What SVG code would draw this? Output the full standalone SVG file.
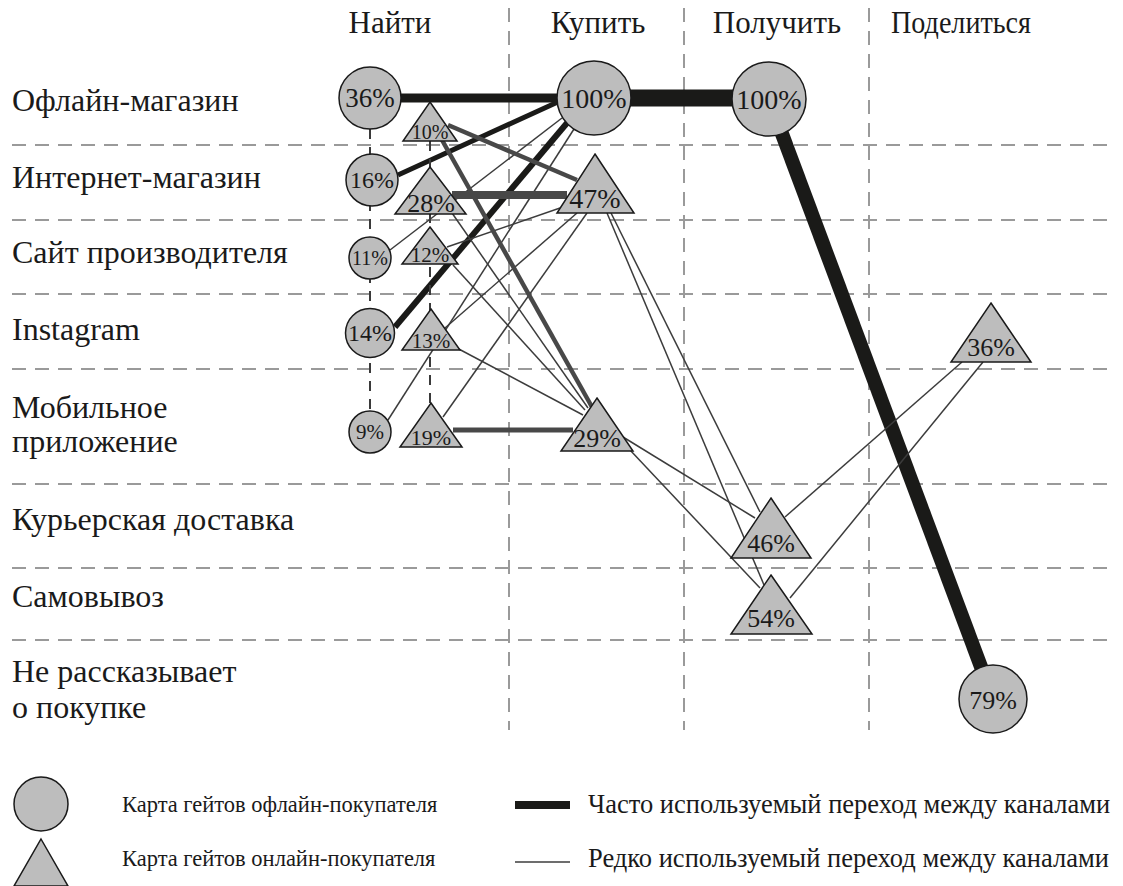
<svg xmlns="http://www.w3.org/2000/svg" width="1123" height="886" viewBox="0 0 1123 886">
  <style>
    text { font-family: "Liberation Serif", "Times New Roman", serif; fill: #1a1a1a; }
    .hdr { font-size: 31px; text-anchor: middle; }
    .row { font-size: 32px; }
    .lg { font-size: 22.5px; }
    .lg2 { font-size: 26.5px; }
    .lbl { text-anchor: middle; }
    .grid { stroke: #9a9a9a; stroke-width: 2; stroke-dasharray: 14 9; fill: none; }
    .chain { stroke: #3a3a3a; stroke-width: 2; stroke-dasharray: 10 8; fill: none; }
    .node { fill: #bdbdbd; stroke: #1a1a1a; stroke-width: 1.5; }
    .heavy { stroke: #1a1a18; fill: none; }
    .mid { stroke: #484848; fill: none; }
    .thin { stroke: #3c3c3c; stroke-width: 1.5; fill: none; }
  </style>

  <rect width="1123" height="886" fill="#ffffff"/>

  <!-- grid -->
  <g id="grid">
    <line class="grid" x1="12" y1="145" x2="1108" y2="145"/>
    <line class="grid" x1="12" y1="220" x2="1108" y2="220"/>
    <line class="grid" x1="12" y1="294" x2="1108" y2="294"/>
    <line class="grid" x1="12" y1="369" x2="1108" y2="369"/>
    <line class="grid" x1="12" y1="484" x2="1108" y2="484"/>
    <line class="grid" x1="12" y1="568" x2="1108" y2="568"/>
    <line class="grid" x1="12" y1="640" x2="1108" y2="640"/>
    <line class="grid" x1="509" y1="8" x2="509" y2="730"/>
    <line class="grid" x1="684" y1="8" x2="684" y2="730"/>
    <line class="grid" x1="869" y1="8" x2="869" y2="730"/>
  </g>

  <!-- column headers -->
  <g id="headers">
    <text class="hdr" x="390" y="33">Найти</text>
    <text class="hdr" x="598" y="33">Купить</text>
    <text class="hdr" x="777" y="33">Получить</text>
    <text class="hdr" x="961" y="33" textLength="140" lengthAdjust="spacingAndGlyphs">Поделиться</text>
  </g>

  <!-- channel rows -->
  <g id="rows">
    <text class="row" x="12" y="111">Офлайн-магазин</text>
    <text class="row" x="12" y="188">Интернет-магазин</text>
    <text class="row" x="12" y="263">Сайт производителя</text>
    <text class="row" x="12" y="340">Instagram</text>
    <text class="row" x="12" y="418">Мобильное</text>
    <text class="row" x="12" y="452">приложение</text>
    <text class="row" x="12" y="530">Курьерская доставка</text>
    <text class="row" x="12" y="607">Самовывоз</text>
    <text class="row" x="12" y="682">Не рассказывает</text>
    <text class="row" x="12" y="718">о покупке</text>
  </g>

  <!-- connectors -->
  <g id="connectors">
    <!-- offline path -->
    <line class="heavy" stroke-width="9" x1="401" y1="98" x2="560" y2="98"/>
    <line class="heavy" stroke-width="5" x1="398" y1="175" x2="560" y2="101"/>
    <line class="heavy" stroke-width="6" x1="395" y1="327" x2="567" y2="123"/>
    <line class="thin" x1="390" y1="250" x2="562" y2="118"/>
    <line class="thin" x1="388" y1="420" x2="574" y2="129"/>
    <line class="heavy" stroke-width="17" x1="630" y1="98" x2="733" y2="98"/>
    <line class="heavy" stroke-width="14" x1="769" y1="99" x2="993" y2="699"/>

    <!-- online path: find -> buy -->
    <line class="mid" stroke-width="4.5" x1="448" y1="125" x2="577" y2="180"/>
    <line class="mid" stroke-width="8" x1="452" y1="195" x2="567" y2="195"/>
    <line class="thin" x1="447" y1="247" x2="560" y2="208"/>
    <line class="thin" x1="445" y1="328" x2="577" y2="213"/>
    <line class="thin" x1="443" y1="417" x2="587" y2="213"/>
    <line class="mid" stroke-width="4.5" x1="442" y1="140" x2="592" y2="407"/>
    <line class="thin" x1="452" y1="213" x2="588" y2="408"/>
    <line class="thin" x1="453" y1="265" x2="585" y2="410"/>
    <line class="thin" x1="455" y1="347" x2="583" y2="415"/>
    <line class="mid" stroke-width="5" x1="453" y1="430" x2="573" y2="430"/>

    <!-- buy -> receive -->
    <line class="thin" x1="607" y1="213" x2="764" y2="585"/>
    <line class="thin" x1="611" y1="213" x2="760" y2="512"/>
    <line class="thin" x1="623" y1="437" x2="755" y2="518"/>
    <line class="thin" x1="630" y1="450" x2="760" y2="588"/>

    <!-- receive -> share -->
    <line class="thin" x1="785" y1="517" x2="962" y2="362"/>
    <line class="thin" x1="790" y1="598" x2="983" y2="362"/>
  </g>

  <!-- dashed chains linking the search options -->
  <g id="chains">
    <line class="chain" x1="370" y1="129" x2="370" y2="411"/>
    <line class="chain" x1="430" y1="141" x2="430" y2="403"/>
  </g>

  <!-- offline buyer nodes -->
  <g id="off-find-store">
    <circle class="node" cx="370" cy="98" r="31"/>
    <text class="lbl" x="370" y="107" font-size="27">36%</text>
  </g>
  <g id="off-find-web">
    <circle class="node" cx="372" cy="180" r="26"/>
    <text class="lbl" x="372" y="188" font-size="24">16%</text>
  </g>
  <g id="off-find-site">
    <circle class="node" cx="370" cy="258" r="21"/>
    <text class="lbl" x="370" y="265" font-size="20">11%</text>
  </g>
  <g id="off-find-insta">
    <circle class="node" cx="370" cy="333" r="24.5"/>
    <text class="lbl" x="370" y="341" font-size="24">14%</text>
  </g>
  <g id="off-find-app">
    <circle class="node" cx="370" cy="432" r="21"/>
    <text class="lbl" x="370" y="439" font-size="21">9%</text>
  </g>
  <g id="off-buy-store">
    <circle class="node" cx="594" cy="98" r="37"/>
    <text class="lbl" x="594" y="108" font-size="28">100%</text>
  </g>
  <g id="off-get-store">
    <circle class="node" cx="769" cy="99" r="37"/>
    <text class="lbl" x="769" y="109" font-size="28">100%</text>
  </g>
  <g id="off-share-none">
    <circle class="node" cx="993" cy="699" r="34"/>
    <text class="lbl" x="993" y="709" font-size="26">79%</text>
  </g>

  <!-- online buyer nodes -->
  <g id="on-find-store">
    <polygon class="node" points="430,102 457,141 403,141"/>
    <text class="lbl" x="430" y="139" font-size="20">10%</text>
  </g>
  <g id="on-find-web">
    <polygon class="node" points="430,167 466,214 395,214"/>
    <text class="lbl" x="431" y="212" font-size="26">28%</text>
  </g>
  <g id="on-find-site">
    <polygon class="node" points="430,227 458,264 402,264"/>
    <text class="lbl" x="430" y="262" font-size="21">12%</text>
  </g>
  <g id="on-find-insta">
    <polygon class="node" points="431,309 460,350 402,350"/>
    <text class="lbl" x="431" y="348" font-size="21">13%</text>
  </g>
  <g id="on-find-app">
    <polygon class="node" points="431,403 462,447 400,447"/>
    <text class="lbl" x="431" y="445" font-size="22">19%</text>
  </g>
  <g id="on-buy-web">
    <polygon class="node" points="595,154 634,213 557,213"/>
    <text class="lbl" x="595" y="208" font-size="28">47%</text>
  </g>
  <g id="on-buy-app">
    <polygon class="node" points="597,398 633,451 561,451"/>
    <text class="lbl" x="597" y="447" font-size="26">29%</text>
  </g>
  <g id="on-get-courier">
    <polygon class="node" points="771,498 811,558 731,558"/>
    <text class="lbl" x="771" y="552" font-size="26">46%</text>
  </g>
  <g id="on-get-pickup">
    <polygon class="node" points="771,575 812,634 731,634"/>
    <text class="lbl" x="771" y="627" font-size="26">54%</text>
  </g>
  <g id="on-share-insta">
    <polygon class="node" points="991,303 1031,362 951,362"/>
    <text class="lbl" x="991" y="356" font-size="26">36%</text>
  </g>

  <!-- legend -->
  <g id="legend">
    <circle class="node" cx="41" cy="804" r="27"/>
    <text class="lg" x="122" y="812">Карта гейтов офлайн-покупателя</text>
    <polygon class="node" points="41,839 68,886 14,886"/>
    <text class="lg" x="122" y="866">Карта гейтов онлайн-покупателя</text>
    <line class="heavy" stroke-width="8" x1="515" y1="805" x2="570" y2="805"/>
    <text class="lg2" x="588" y="813">Часто используемый переход между каналами</text>
    <line class="thin" x1="515" y1="862" x2="570" y2="862"/>
    <text class="lg2" x="588" y="867">Редко используемый переход между каналами</text>
  </g>
</svg>
